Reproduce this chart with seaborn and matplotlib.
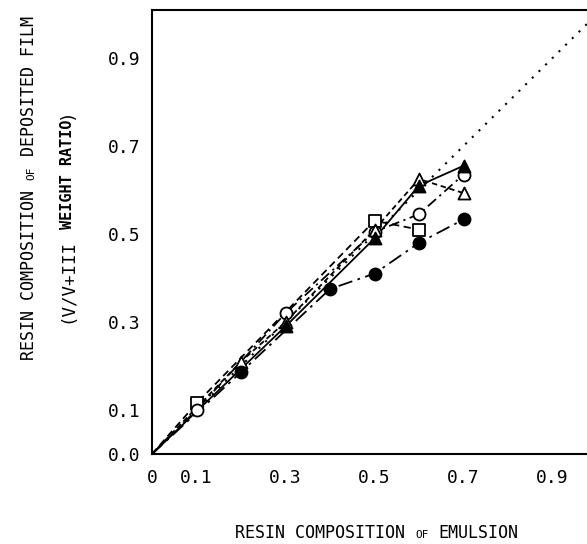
import matplotlib
matplotlib.use("Agg")
import matplotlib.pyplot as plt
import seaborn as sns
import pandas as pd

# tick values / labels
x_ticks = [0, 0.1, 0.3, 0.5, 0.7, 0.9]
x_ticklabels = ["0", "0.1", "0.3", "0.5", "0.7", "0.9"]
y_ticks = [0.0, 0.1, 0.3, 0.5, 0.7, 0.9]
y_ticklabels = ["0.0", "0.1", "0.3", "0.5", "0.7", "0.9"]

# series (resin composition of emulsion -> of film)
open_square_x = [0.1, 0.5, 0.6]
open_square_y = [0.115, 0.53, 0.51]
open_circle_x = [0.1, 0.3, 0.5, 0.6, 0.7]
open_circle_y = [0.10, 0.32, 0.505, 0.545, 0.635]
open_triangle_x = [0.2, 0.3, 0.5, 0.6, 0.7]
open_triangle_y = [0.21, 0.30, 0.51, 0.625, 0.593]
filled_triangle_x = [0.3, 0.5, 0.6, 0.7]
filled_triangle_y = [0.29, 0.49, 0.61, 0.655]
filled_circle_x = [0.2, 0.4, 0.5, 0.6, 0.7]
filled_circle_y = [0.186, 0.375, 0.41, 0.48, 0.533]

series = {
    "open_square": (open_square_x, open_square_y),
    "open_circle": (open_circle_x, open_circle_y),
    "open_triangle": (open_triangle_x, open_triangle_y),
    "filled_triangle": (filled_triangle_x, filled_triangle_y),
    "filled_circle": (filled_circle_x, filled_circle_y),
}
# marker, face colour, line style
styles = {
    "open_square": ("s", "white", (0, (4, 2.5))),
    "open_circle": ("o", "white", (0, (6, 2.5, 1.2, 2.5))),
    "open_triangle": ("^", "white", (0, (3, 2))),
    "filled_triangle": ("^", "black", "-"),
    "filled_circle": ("o", "black", (0, (8, 3, 1.5, 3))),
}

DPI = 100
W_IN, H_IN = 5.87, 5.44
MONO = "DejaVu Sans Mono"

sns.set_theme(style="white")
plt.rcParams["font.family"] = MONO

fig = plt.figure(figsize=(W_IN, H_IN), dpi=DPI)
W, H = W_IN * DPI, H_IN * DPI
ax = fig.add_axes([152 / W, (H - 454) / H, (W - 152) / W, 444 / H])

# y = x reference
ax.plot([0, 1], [0, 1], color="black", lw=1.5, linestyle=(0, (1, 3.5)))

for name, (xs, ys) in series.items():
    marker, face, ls = styles[name]
    df = pd.DataFrame({"x": [0.0] + xs, "y": [0.0] + ys})
    sns.lineplot(data=df, x="x", y="y", ax=ax, color="black", lw=1.3,
                 linestyle=ls, sort=False, estimator=None)
    pts = pd.DataFrame({"x": xs, "y": ys})
    sns.scatterplot(data=pts, x="x", y="y", ax=ax, marker=marker, s=75,
                    facecolor=face, edgecolor="black", linewidth=1.3, zorder=3)

ax.set_xlim(0, (W - 152) / 445)
ax.set_ylim(0, 444 / 440)
ax.set_xticks(x_ticks)
ax.set_xticklabels(x_ticklabels)
ax.set_yticks(y_ticks)
ax.set_yticklabels(y_ticklabels)
ax.set_xlabel("")
ax.set_ylabel("")
ax.tick_params(axis="both", direction="in", length=6, width=1.2, labelsize=13,
               colors="black")
ax.tick_params(axis="x", pad=10.5)
ax.tick_params(axis="y", pad=8)
ax.spines["right"].set_visible(False)
for s in ["left", "bottom", "top"]:
    ax.spines[s].set_color("black")
    ax.spines[s].set_linewidth(1.5)


def adv(fs):
    # advance of one DejaVu Sans Mono character, in pixels
    return 0.602 * fs * DPI / 72


def mixed_label(pieces, x_px, y_px, rotation=0):
    """Text in mixed sizes, centred on (x_px, y_px) = baseline centre, px from top-left."""
    total = sum(len(t) * adv(fs) for t, fs, _ in pieces)
    pos = -total / 2
    for t, fs, w in pieces:
        lead = len(t) - len(t.lstrip())
        p = pos + lead * adv(fs)
        if rotation == 0:
            px, py = x_px + p, y_px
        else:
            px, py = x_px, y_px - p
        fig.text(px / W, 1 - py / H, t.strip(), fontsize=fs, fontweight=w, family=MONO,
                 ha="left", va="baseline", rotation=rotation, rotation_mode="anchor",
                 color="black")
        pos += len(t) * adv(fs)


mixed_label([("RESIN COMPOSITION ", 12, "normal"), ("OF", 8, "normal"),
             (" EMULSION", 12, "normal")], 377, 538)
mixed_label([("RESIN COMPOSITION ", 12, "normal"), ("OF", 8, "normal"),
             (" DEPOSITED FILM", 12, "normal")], 34, 188, rotation=90)
mixed_label([("(V/V+III ", 12.5, "normal"), ("WEIGHT RATIO", 11, "bold"),
             (")", 12.5, "normal")], 72, 216, rotation=90)

fig.savefig("out.png", dpi=DPI)
